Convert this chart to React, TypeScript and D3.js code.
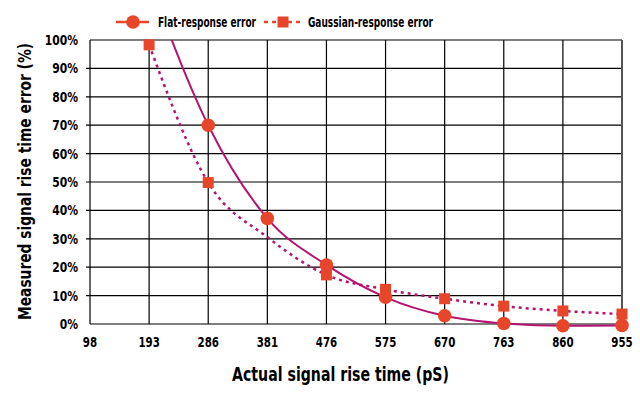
import React, { useLayoutEffect, useRef, useState } from "react";
import * as d3 from "d3";

const categories = ["98", "193", "286", "381", "476", "575", "670", "763", "860", "955"];
const flatValues = [NaN, 121, 70, 37.2, 20.8, 9.4, 2.9, 0.2, -0.6, -0.5];
const flatMarkers = [false, false, true, true, true, true, true, true, true, true];
const gaussValues = [NaN, 98.3, 49.8, 30.6, 17.3, 12.2, 8.9, 6.3, 4.6, 3.5];
const gaussMarkers = [false, true, true, false, true, true, true, true, true, true];
const yTicks = [0, 10, 20, 30, 40, 50, 60, 70, 80, 90, 100];

const W = 640, H = 393;
const left = 90, right = 622, top = 40, bottom = 324;
const LINE = "#b3146f";
const MARK = "#e8462a";
const FONT = "'DejaVu Sans', sans-serif";

function Narrow(props: { x: number; y: number; anchor?: string; size: number; sx?: number; children: any }) {
  const { x, y, anchor = "start", size, sx = 0.78, children } = props;
  return (
    <text
      transform={`translate(${x},${y}) scale(${sx},1)`}
      textAnchor={anchor}
      fontFamily={FONT}
      fontWeight="bold"
      fontSize={size}
      fill="#000"
    >
      {children}
    </text>
  );
}

function Fit(props: { x: number; y: number; width: number; size: number; rotate?: number; children: any }) {
  const { x, y, width, size, rotate = 0, children } = props;
  const ref = useRef<SVGTextElement>(null);
  const [s, setS] = useState(0.75);
  useLayoutEffect(() => {
    if (ref.current) {
      const len = ref.current.getComputedTextLength();
      if (len > 0) setS(width / len);
    }
  }, [width]);
  return (
    <text
      ref={ref}
      transform={`translate(${x},${y}) rotate(${rotate}) scale(${s},1)`}
      textAnchor="middle"
      fontFamily={FONT}
      fontWeight="bold"
      fontSize={size}
      fill="#000"
    >
      {children}
    </text>
  );
}

export default function App() {
  const x = d3.scaleLinear().domain([0, categories.length - 1]).range([left, right]);
  const y = d3.scaleLinear().domain([0, 100]).range([bottom, top]);

  const line = d3
    .line<number>()
    .defined((d) => !isNaN(d))
    .x((_, i) => x(i))
    .y((d) => y(d))
    .curve(d3.curveMonotoneX);

  return (
    <svg width={W} height={H} style={{ position: "absolute", left: 0, top: 0, background: "#fff" }}>
      <defs>
        <clipPath id="plot">
          <rect x={left} y={top} width={right - left} height={bottom - top + 10} />
        </clipPath>
      </defs>
      <rect x={0} y={0} width={W} height={H} fill="#fff" />
      {/* grid */}
      {yTicks.map((t) => (
        <line
          key={"h" + t}
          x1={t === 0 || t === 100 ? left : left - 4}
          x2={right}
          y1={y(t)}
          y2={y(t)}
          stroke="#000"
          strokeWidth={1.2}
        />
      ))}
      {categories.map((c, i) => (
        <line
          key={"v" + c}
          x1={x(i)}
          x2={x(i)}
          y1={top}
          y2={bottom}
          stroke={i === categories.length - 1 ? "#555" : "#000"}
          strokeWidth={i === categories.length - 1 ? 2 : 1.2}
        />
      ))}
      {/* y tick labels */}
      {yTicks.map((t) => (
        <Narrow key={"yl" + t} x={78} y={y(t) + 5} anchor="end" size={13.5} sx={0.8}>
          {t + "%"}
        </Narrow>
      ))}
      {/* x tick labels */}
      {categories.map((c, i) => (
        <Narrow key={"xl" + c} x={x(i)} y={347} anchor="middle" size={13.5} sx={0.76}>
          {c}
        </Narrow>
      ))}
      {/* lines */}
      <g clipPath="url(#plot)">
        <path d={line(flatValues) || ""} fill="none" stroke={LINE} strokeWidth={2} />
        <path
          d={line(gaussValues) || ""}
          fill="none"
          stroke={LINE}
          strokeWidth={2.5}
          strokeDasharray="3,4"
        />
      </g>
      {/* markers */}
      {gaussValues.map((v, i) =>
        gaussMarkers[i] ? (
          <rect key={"gs" + i} x={x(i) - 5.5} y={y(v) - 5.5} width={11} height={11} fill={MARK} />
        ) : null
      )}
      {flatValues.map((v, i) =>
        flatMarkers[i] ? <circle key={"fc" + i} cx={x(i)} cy={y(v)} r={6.8} fill={MARK} /> : null
      )}
      {/* legend */}
      <line x1={116} x2={149} y1={22} y2={22} stroke={MARK} strokeWidth={2.5} />
      <circle cx={133} cy={22} r={6.8} fill={MARK} />
      <Fit x={207} y={27} width={98} size={14.5}>
        Flat-response error
      </Fit>
      <line x1={264} x2={302} y1={22} y2={22} stroke={MARK} strokeWidth={2.5} strokeDasharray="4,4" />
      <rect x={277.5} y={16.5} width={11} height={11} fill={MARK} />
      <Fit x={370.5} y={27} width={125} size={14.5}>
        Gaussian-response error
      </Fit>
      {/* axis titles */}
      <Fit x={340.5} y={381} width={217} size={19.5}>
        Actual signal rise time (pS)
      </Fit>
      <Fit x={31} y={181.5} width={277} size={17.5} rotate={-90}>
        Measured signal rise time error (%)
      </Fit>
    </svg>
  );
}
